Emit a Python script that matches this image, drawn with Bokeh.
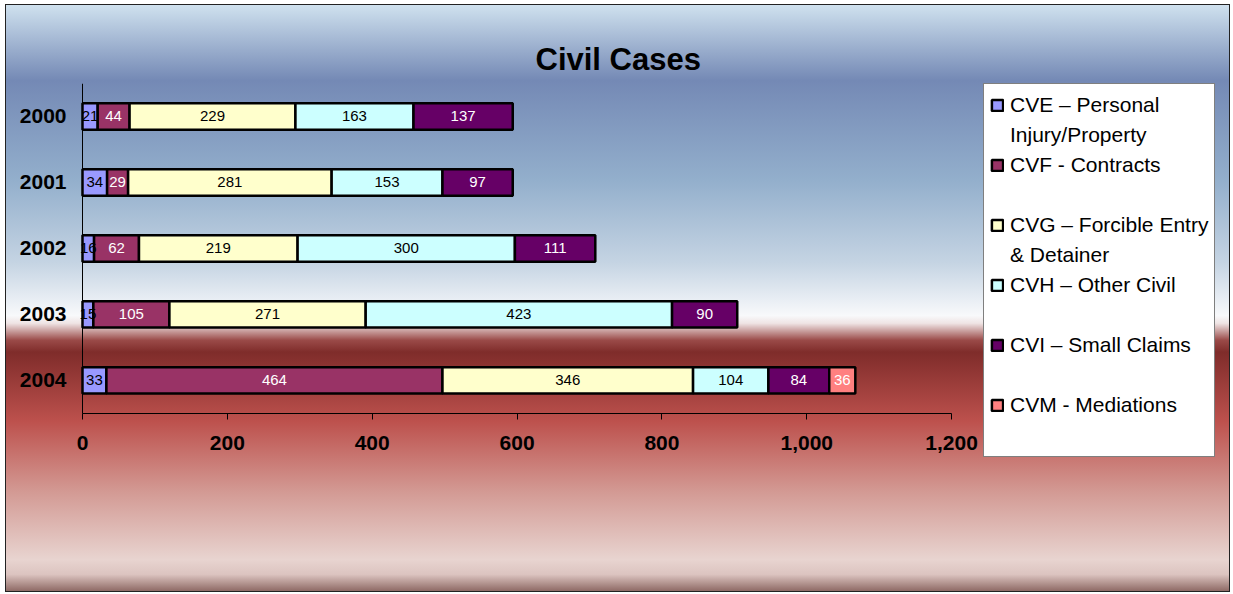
from bokeh.plotting import figure
from bokeh.models import (ColumnDataSource, Range1d, Legend, LegendItem, LinearAxis,
                          LabelSet, NumeralTickFormatter, FixedTicker)
from bokeh.embed import file_html
from bokeh.resources import INLINE
from bokeh.core.properties import value

# ---- data ----
years = ["2000", "2001", "2002", "2003", "2004"]
series_names = ["CVE", "CVF", "CVG", "CVH", "CVI", "CVM"]
# each legend entry: first line (beside the swatch), continuation line
legend_first = ["CVE – Personal", "CVF - Contracts", "CVG – Forcible Entry",
                "CVH – Other Civil", "CVI – Small Claims", "CVM - Mediations"]
legend_second = ["Injury/Property", " ", "& Detainer", " ", " ", " "]
cve = [21, 34, 16, 15, 33]
cvf = [44, 29, 62, 105, 464]
cvg = [229, 281, 219, 271, 346]
cvh = [163, 153, 300, 423, 104]
cvi = [137, 97, 111, 90, 84]
cvm = [0, 0, 0, 0, 36]
x_ticks = [0, 200, 400, 600, 800, 1000, 1200]

values = [cve, cvf, cvg, cvh, cvi, cvm]
colors = ["#9999FF", "#993366", "#FFFFCC", "#CCFFFF", "#660066", "#FF8080"]
text_colors = ["#000000", "#FFFFFF", "#000000", "#000000", "#FFFFFF", "#FFFFFF"]

FONT = "Liberation Sans"

# category rows: 2000 at top, one unit per year
n = len(years)
row_pos = [n - 0.5 - i for i in range(n)]

# frame spans a little left of 0 and on to the right edge (room for the legend)
p = figure(width=1225, height=588, output_backend="svg", toolbar_location=None,
           x_range=Range1d(-20.7, 1585), y_range=Range1d(-0.76, n),
           min_border_left=62, min_border_right=0, min_border_top=79,
           min_border_bottom=129)
p.background_fill_color = None
p.border_fill_color = None
p.outline_line_color = None

p.styles = {
    "margin-left": "5px",
    "margin-top": "4px",
    "background-image": ("linear-gradient(to bottom, #d0e2ef 0%, #7489b5 13%, #93afcc 30%, "
                         "#c5d4e3 44%, #f8f9fb 53%, #efe4e4 54.3%, #9a4a48 57.2%, "
                         "#7f2c2a 59.2%, #bd514d 71%, #d39a94 83%, #e8d4d0 94.5%, "
                         "#dcc4c0 97%, #8a6560 100%)"),
    "outline": "1.5px solid #222222",
    "outline-offset": "-1px",
}

# ---- bars ----
left = [0] * n
renderers = []
lab_x, lab_y, lab_t, lab_c = [], [], [], []
for name, vals, col, tcol in zip(series_names, values, colors, text_colors):
    ys, ls, rs = [], [], []
    for i, v in enumerate(vals):
        if v > 0:
            ys.append(row_pos[i]); ls.append(left[i]); rs.append(left[i] + v)
            lab_x.append(left[i] + v / 2); lab_y.append(row_pos[i])
            lab_t.append(str(v)); lab_c.append(tcol)
        left[i] += v
    src = ColumnDataSource(dict(y=ys, left=ls, right=rs))
    r = p.hbar(y="y", left="left", right="right", height=0.4, source=src,
               fill_color=col, line_color="black", line_width=2.5)
    renderers.append(r)

# invisible renderer used for continuation lines of the legend
blank = p.hbar(y=[], left=[], right=[], height=0.4, fill_alpha=0, line_alpha=0)

lsrc = ColumnDataSource(dict(x=lab_x, y=lab_y, t=lab_t, c=lab_c))
p.add_layout(LabelSet(x="x", y="y", text="t", source=lsrc, text_color="c",
                      text_align="center", text_baseline="middle",
                      text_font=value(FONT), text_font_size="15px"))

# ---- axes ----
p.xgrid.visible = False
p.ygrid.visible = False
p.xaxis.ticker = FixedTicker(ticks=x_ticks)
p.xaxis.formatter = NumeralTickFormatter(format="0,0")
p.xaxis.bounds = (0, 1200)
p.xaxis.fixed_location = 0
p.xaxis.major_tick_in = 0
p.xaxis.major_tick_out = 6
p.xaxis.minor_tick_line_color = None

# year labels (axis line drawn by the second axis at x = 0)
p.yaxis.ticker = FixedTicker(ticks=row_pos)
p.yaxis.major_label_overrides = {pos: yr for pos, yr in zip(row_pos, years)}
p.yaxis.axis_line_color = None
p.yaxis.major_tick_line_color = None
p.yaxis.minor_tick_line_color = None
p.yaxis.major_tick_in = 0
p.yaxis.major_tick_out = 0
p.yaxis.major_label_standoff = 1

yline = LinearAxis(ticker=FixedTicker(ticks=[]), fixed_location=0, bounds=(0, n),
                   axis_line_color="black", major_tick_line_color=None,
                   minor_tick_line_color=None, major_tick_in=0, major_tick_out=0,
                   minor_tick_in=0, minor_tick_out=0, major_label_standoff=0)
p.add_layout(yline, "left")

for ax in (p.xaxis, p.yaxis):
    ax.major_label_text_font = FONT
    ax.major_label_text_font_style = "bold"
    ax.major_label_text_font_size = "21px"
    ax.major_label_text_color = "black"
p.xaxis.axis_line_color = "black"
p.xaxis.major_label_standoff = 17

# ---- title ----
p.title.text = "Civil Cases"
p.title.align = "left"
p.title.offset = 468
p.title.text_font = FONT
p.title.text_font_style = "bold"
p.title.text_font_size = "31px"
p.title.text_color = "black"
p.title.standoff = 13

# ---- legend ----
items = []
for first, second, r in zip(legend_first, legend_second, renderers):
    items.append(LegendItem(label=first, renderers=[r]))
    if second:
        items.append(LegendItem(label=second, renderers=[blank]))
legend = Legend(items=items, location=(916, 6), orientation="vertical",
                background_fill_color="white", background_fill_alpha=1.0,
                border_line_color="black", border_line_width=1,
                label_text_font=FONT, label_text_font_size="21px",
                label_text_color="black",
                label_height=30, label_text_line_height=1.0,
                glyph_width=14, glyph_height=14, label_standoff=6,
                padding=6, spacing=0, margin=0)
p.add_layout(legend, "center")

open("out.html", "w").write(file_html(p, INLINE))
